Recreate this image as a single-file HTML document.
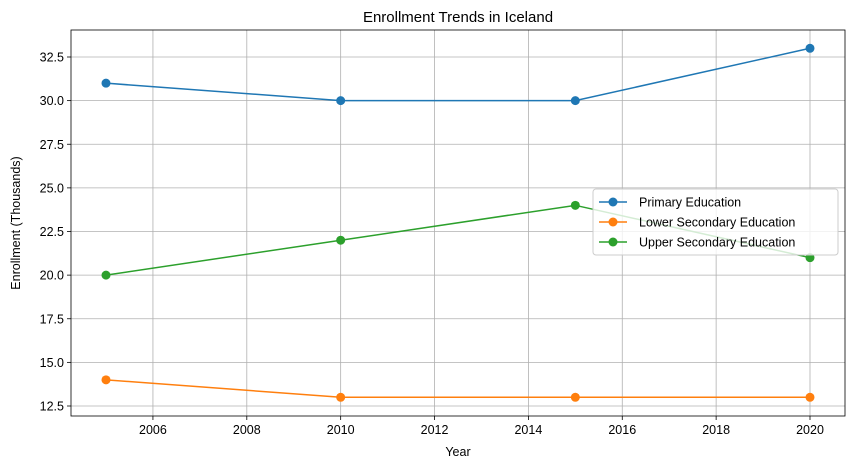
<!DOCTYPE html>
<html><head><meta charset="utf-8"><style>
body{margin:0;background:#fff;font-family:"Liberation Sans","DejaVu Sans",sans-serif;}
</style></head><body>
<svg id="chart" width="855" height="468" xmlns="http://www.w3.org/2000/svg"></svg>
<script>
const years=[2005,2010,2015,2020];
const primary=[31,30,30,33];
const lowerSec=[14,13,13,13];
const upperSec=[20,22,24,21];
const xTicks=[2006,2008,2010,2012,2014,2016,2018,2020];
const yTicks=[12.5,15.0,17.5,20.0,22.5,25.0,27.5,30.0,32.5];
const seriesNames=["Primary Education","Lower Secondary Education","Upper Secondary Education"];
const colors=["#1f77b4","#ff7f0e","#2ca02c"];
const L=71,R=845,T=30,B=416;
const x=v=>106+(v-2005)*(810-106)/15;
const y=v=>406-(v-12.5)*(406-57)/20;
const svg=document.getElementById('chart');
const NS="http://www.w3.org/2000/svg";
function mk(tag,attrs,parent){const e=document.createElementNS(NS,tag);for(const k in attrs)e.setAttribute(k,attrs[k]);(parent||svg).appendChild(e);return e;}
// grid
xTicks.forEach(t=>{
 const g=mk('line',{x1:x(t),x2:x(t),y1:T,y2:B,stroke:'#b0b0b0','stroke-width':0.8});
 
 
 mk('line',{x1:x(t),x2:x(t),y1:B,y2:B+4,stroke:'#000','stroke-width':0.8});
 const tx=mk('text',{x:x(t),y:B+18,'text-anchor':'middle','font-size':12.5,fill:'#000'});
 tx.textContent=t;
 
 
});
yTicks.forEach(t=>{
 const g=mk('line',{x1:L,x2:R,y1:y(t),y2:y(t),stroke:'#b0b0b0','stroke-width':0.8});
 
 
 mk('line',{x1:L-4,x2:L,y1:y(t),y2:y(t),stroke:'#000','stroke-width':0.8});
 const tx=mk('text',{x:L-7,y:y(t)+4.5,'text-anchor':'end','font-size':12.5,fill:'#000'});
 tx.textContent=t.toFixed(1);
 
 
});
const frame=mk('rect',{x:L,y:T,width:R-L,height:B-T,fill:'none',stroke:'#000','stroke-width':0.8});


[primary,lowerSec,upperSec].forEach((s,i)=>{
 const p=mk('polyline',{points:s.map((v,j)=>x(years[j])+','+y(v)).join(' '),fill:'none',stroke:colors[i],'stroke-width':1.5});
 
 
 s.forEach((v,j)=>{
  const c=mk('circle',{cx:x(years[j]),cy:y(v),r:4.5,fill:colors[i]});
  
  
 });
});
// legend
const lg=mk('g',{});


mk('rect',{x:593,y:189,width:245,height:66,rx:3,fill:'#fff','fill-opacity':0.8,stroke:'#ccc'},lg);
seriesNames.forEach((n,i)=>{
 const yy=202+i*20;
 mk('line',{x1:599,x2:627,y1:yy,y2:yy,stroke:colors[i],'stroke-width':1.5},lg);
 mk('circle',{cx:613,cy:yy,r:4.5,fill:colors[i]},lg);
 const t=mk('text',{x:639,y:yy+4.5,'font-size':12.5,fill:'#000'},lg);
 t.textContent=n;
 
 
});
const title=mk('text',{x:(L+R)/2,y:22,'text-anchor':'middle','font-size':15,fill:'#000'});
title.textContent='Enrollment Trends in Iceland';


const xl=mk('text',{x:(L+R)/2,y:456,'text-anchor':'middle','font-size':12.5,fill:'#000'});
xl.textContent='Year';


const yl=mk('text',{x:0,y:0,'text-anchor':'middle','font-size':12.5,fill:'#000',transform:'translate(20,'+((T+B)/2)+') rotate(-90)'});
yl.textContent='Enrollment (Thousands)';


</script>
</body></html>
